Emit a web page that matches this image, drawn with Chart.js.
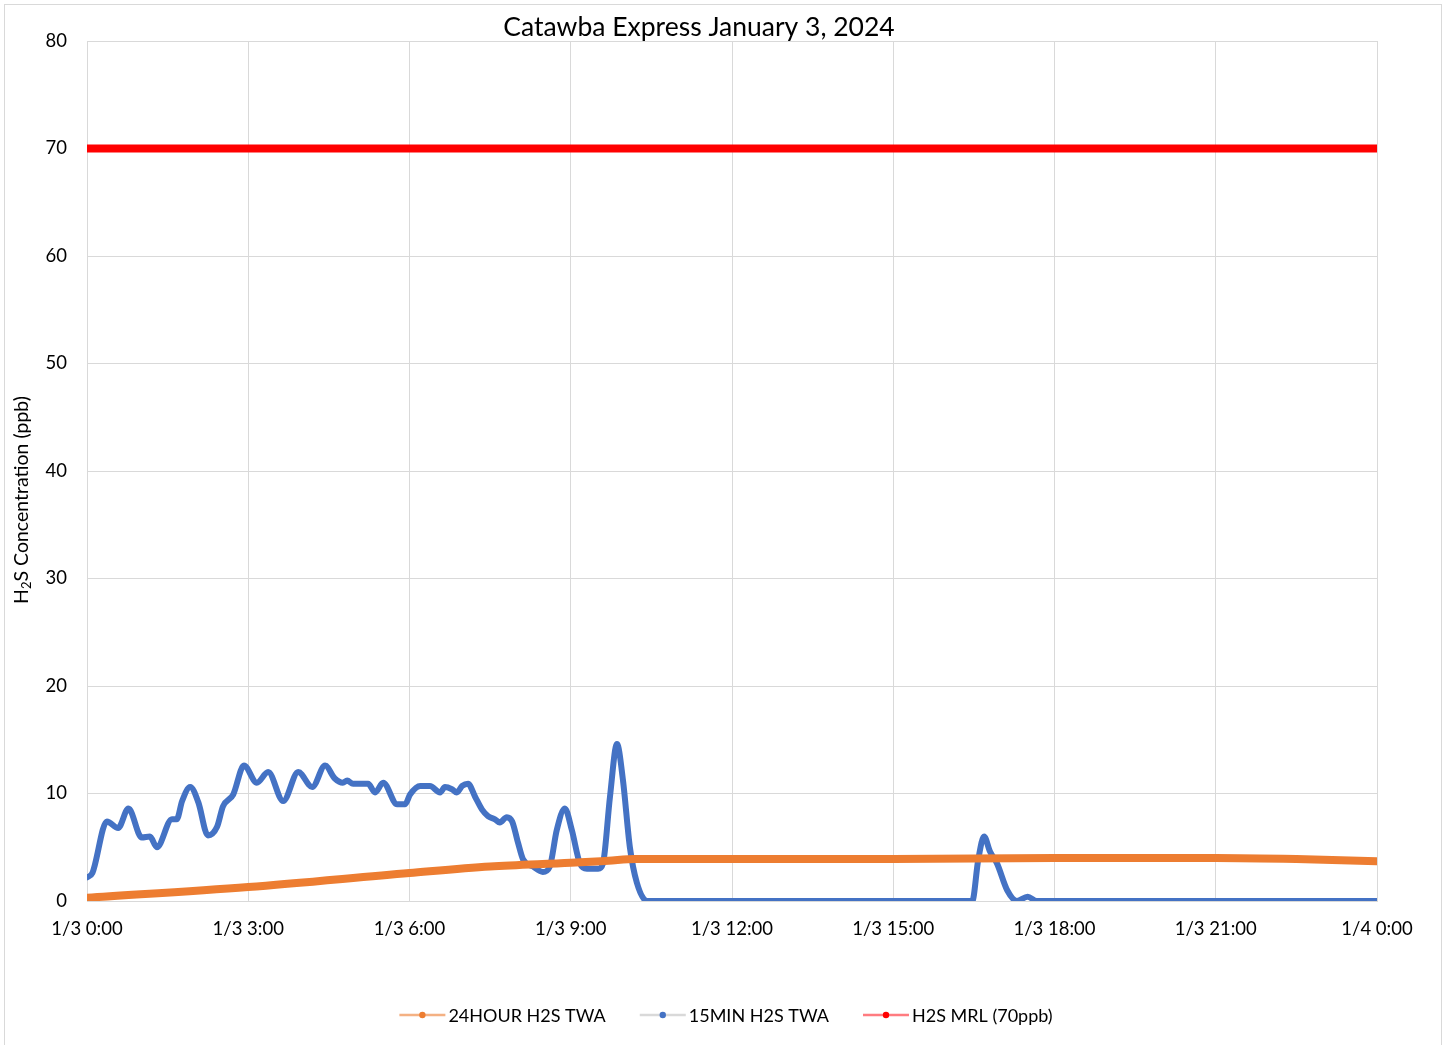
<!DOCTYPE html>
<html>
<head>
<meta charset="utf-8">
<script src="https://cdn.jsdelivr.net/npm/chart.js@4/dist/chart.umd.min.js"></script>
<style>
  body { margin: 0; background: #fff; }
  canvas { display: block; }
</style>
</head>
<body>
<canvas id="h2sChart" width="1447" height="1045"></canvas>
<script>
// tick labels for the x axis (every 3 hours)
var xTickLabels = ['1/3 0:00', '1/3 3:00', '1/3 6:00', '1/3 9:00', '1/3 12:00', '1/3 15:00', '1/3 18:00', '1/3 21:00', '1/4 0:00'];

// 15 minute TWA (hours since midnight, ppb)
var blueHours = [0, 0.1, 0.37, 0.58, 0.77, 1.02, 1.17, 1.3, 1.58, 1.67, 1.77, 1.92, 2.07, 2.25, 2.42, 2.53, 2.72, 2.92,
    3.16, 3.37, 3.65, 3.93, 4.19, 4.43, 4.61, 4.76, 4.84, 4.95, 5.23, 5.36, 5.51, 5.77, 5.92, 6.01, 6.2, 6.38, 6.57,
    6.66, 6.79, 6.88, 6.98, 7.09, 7.22, 7.35, 7.46, 7.59, 7.68, 7.81, 7.91, 8.02, 8.11, 8.3, 8.48, 8.61, 8.74, 8.89,
    9.02, 9.17, 9.3, 9.51, 9.6, 9.73, 9.86, 9.97, 10.1, 10.23, 10.42, 16.4, 16.47, 16.58, 16.69, 16.8, 16.93, 17.12,
    17.3, 17.5, 17.67, 24];
var blueValues = [2.2, 2.6, 7.4, 6.8, 8.6, 5.9, 6.0, 5.0, 7.6, 7.6, 9.3, 10.6, 9.2, 6.1, 6.9, 8.8, 9.9, 12.6,
    11.0, 12.0, 9.3, 12.0, 10.6, 12.6, 11.4, 11.0, 11.2, 10.9, 10.9, 10.1, 11.0, 9.0, 9.0, 9.9, 10.7, 10.7, 10.1,
    10.6, 10.4, 10.1, 10.7, 10.9, 9.7, 8.5, 7.9, 7.6, 7.3, 7.8, 7.4, 5.4, 3.9, 3.2, 2.7, 3.2, 6.6, 8.6,
    6.6, 3.5, 3.0, 3.0, 3.5, 9.7, 14.6, 11.3, 5.0, 1.7, 0, 0, 0, 3.8, 6.0, 4.6, 3.5, 1.0,
    0, 0.4, 0, 0];

// 24 hour TWA
var orangeHours = [0, 3, 6, 7.5, 9, 9.7, 10.2, 12, 15, 18, 21, 22.5, 24];
var orangeValues = [0.3, 1.3, 2.6, 3.2, 3.55, 3.75, 3.9, 3.9, 3.9, 4.0, 4.0, 3.9, 3.7];

// minimal risk level
var mrlHours = [0, 24];
var mrlValues = [70, 70];

var legendLines = ['#f4b183', '#d9d9d9', '#ff7c80'];
var chartTitle = 'Catawba Express January 3, 2024';

function toPoints(xs, ys) {
    var pts = [];
    for (var i = 0; i < xs.length; i++) {
        pts.push({ x: xs[i], y: ys[i] });
    }
    return pts;
}

var fontFamily = 'Lato, "Liberation Sans", sans-serif';

// title, y axis title (with subscript), legend and outer border
var decorations = {
    id: 'decorations',
    afterDraw: function (chart) {
        var ctx = chart.ctx;
        var sets = chart.data.datasets;
        ctx.save();
        ctx.fillStyle = '#000';

        // title
        ctx.font = '26.5px ' + fontFamily;
        ctx.textAlign = 'center';
        ctx.textBaseline = 'middle';
        ctx.fillText(chartTitle, 699, 27);

        // y axis title: H2S with subscript 2
        ctx.save();
        ctx.translate(22, 500);
        ctx.rotate(-Math.PI / 2);
        ctx.textAlign = 'left';
        var big = '19.5px ' + fontFamily, small = '13px ' + fontFamily;
        ctx.font = big;
        var wH = ctx.measureText('H').width;
        var rest = 'S Concentration (ppb)';
        var wRest = ctx.measureText(rest).width;
        ctx.font = small;
        var w2 = ctx.measureText('2').width;
        var x0 = -(wH + w2 + wRest) / 2;
        ctx.font = big;
        ctx.fillText('H', x0, 0);
        ctx.font = small;
        ctx.fillText('2', x0 + wH, 5);
        ctx.font = big;
        ctx.fillText(rest, x0 + wH + w2, 0);
        ctx.restore();

        // legend
        var swW = 46, gap = 3, itemGap = 34, y = 1015;
        ctx.font = '18px ' + fontFamily;
        ctx.textAlign = 'left';
        var total = 0;
        sets.forEach(function (ds, i) {
            total += swW + gap + ctx.measureText(ds.label).width;
            if (i < sets.length - 1) total += itemGap;
        });
        var x = 726 - total / 2;
        sets.forEach(function (ds, i) {
            ctx.strokeStyle = legendLines[i];
            ctx.lineWidth = 2.5;
            ctx.beginPath();
            ctx.moveTo(x, y);
            ctx.lineTo(x + swW, y);
            ctx.stroke();
            ctx.fillStyle = ds.borderColor;
            ctx.beginPath();
            ctx.arc(x + swW / 2, y, 3.2, 0, Math.PI * 2);
            ctx.fill();
            ctx.fillStyle = '#000';
            ctx.fillText(ds.label, x + swW + gap, y + 1);
            x += swW + gap + ctx.measureText(ds.label).width + itemGap;
        });

        // outer chart border
        ctx.strokeStyle = '#d9d9d9';
        ctx.lineWidth = 1;
        ctx.strokeRect(4.5, 4.5, 1437, 1100);
        ctx.restore();
    }
};

var ctx = document.getElementById('h2sChart').getContext('2d');
var h2sChart = new Chart(ctx, {
    type: 'line',
    data: {
        datasets: [{
            label: '24HOUR H2S TWA',
            data: toPoints(orangeHours, orangeValues),
            borderColor: '#ED7D31',
            backgroundColor: '#ED7D31',
            borderWidth: 8,
            pointRadius: 0,
            cubicInterpolationMode: 'monotone',
            borderCapStyle: 'round'
        }, {
            label: '15MIN H2S TWA',
            data: toPoints(blueHours, blueValues),
            borderColor: '#4472C4',
            backgroundColor: '#4472C4',
            borderWidth: 6,
            pointRadius: 0,
            cubicInterpolationMode: 'monotone',
            borderCapStyle: 'round',
            borderJoinStyle: 'round'
        }, {
            label: 'H2S MRL (70ppb)',
            data: toPoints(mrlHours, mrlValues),
            borderColor: '#FF0000',
            backgroundColor: '#FF0000',
            borderWidth: 8,
            pointRadius: 0,
            borderCapStyle: 'round'
        }]
    },
    options: {
        responsive: false,
        animation: false,
        layout: { padding: { top: 41, right: 70, bottom: 104, left: 0 } },
        plugins: {
            title: { display: false },
            legend: { display: false },
            tooltip: { enabled: false }
        },
        scales: {
            x: {
                type: 'linear',
                min: 0,
                max: 24,
                afterFit: function (scale) { scale.height = 40; },
                afterBuildTicks: function (scale) {
                    scale.ticks = xTickLabels.map(function (t, i) { return { value: i * 3 }; });
                },
                ticks: {
                    color: '#000',
                    font: { family: fontFamily, size: 18.5 },
                    padding: 17,
                    maxRotation: 0,
                    callback: function (v) { return xTickLabels[Math.round(v / 3)]; }
                },
                grid: { color: '#d9d9d9', lineWidth: 1, drawTicks: false },
                border: { color: '#d9d9d9' }
            },
            y: {
                min: 0,
                max: 80,
                afterFit: function (scale) { scale.width = 87; },
                ticks: {
                    stepSize: 10,
                    color: '#000',
                    font: { family: fontFamily, size: 18.5 },
                    padding: 20
                },
                grid: { color: '#d9d9d9', lineWidth: 1, drawTicks: false },
                border: { display: false }
            }
        }
    },
    plugins: [decorations]
});
</script>
</body>
</html>
